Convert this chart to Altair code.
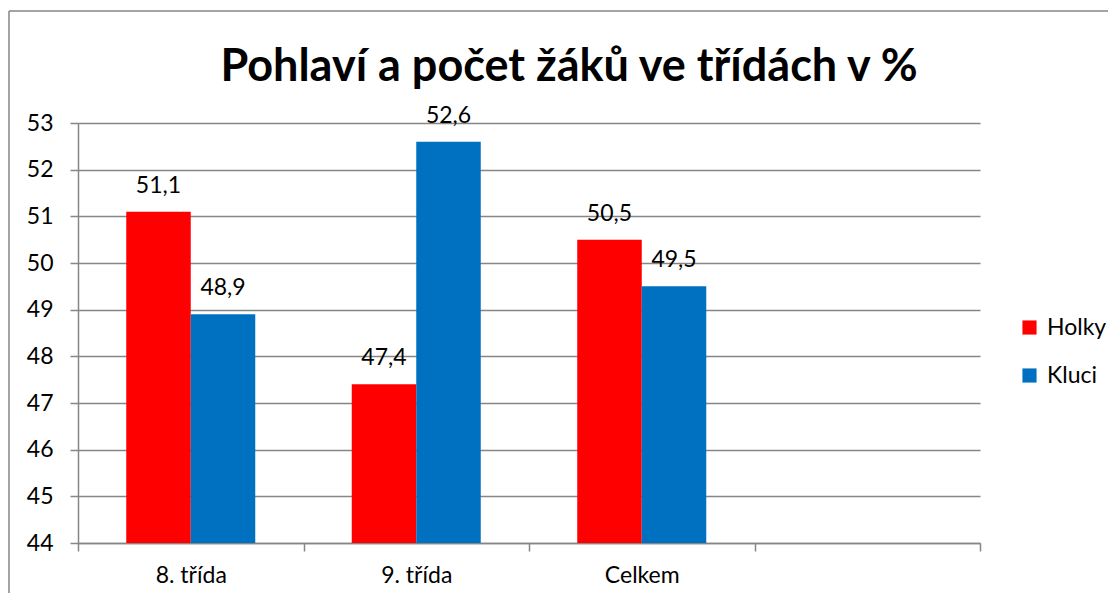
import altair as alt
import pandas as pd

categories = ["8. třída", "9. třída", "Celkem"]
slots = ["8. třída", "9. třída", "Celkem", " "]
series = ["Holky", "Kluci"]
holky = [51.1, 47.4, 50.5]
kluci = [48.9, 52.6, 49.5]
colors = ["#FF0000", "#0070C0"]
y_ticks = list(range(44, 54))

rows = []
for c, h, k in zip(categories, holky, kluci):
    rows.append({"kat": c, "pohlavi": "Holky", "hodnota": h})
    rows.append({"kat": c, "pohlavi": "Kluci", "hodnota": k})
df = pd.DataFrame(rows)
df["popisek"] = df["hodnota"].map(lambda v: f"{v:.1f}".replace(".", ","))

FONT = "Lato"
GRAY = "#868686"

x_scale = alt.Scale(domain=slots, paddingInner=0, paddingOuter=0)
off_scale = alt.Scale(domain=series, paddingInner=0, paddingOuter=0.748)
y_scale = alt.Scale(domain=[44, 53], zero=False, nice=False)

x_enc = alt.X(
    "kat:N",
    sort=slots,
    scale=x_scale,
    axis=alt.Axis(
        title=None, labelAngle=0, tickBand="extent", grid=False,
        labelFontSize=23, labelPadding=13, tickSize=8,
        domainColor=GRAY, tickColor=GRAY, domainWidth=1.5, tickWidth=1.5,
        labelColor="#000000", labelFont=FONT,
    ),
)

bars = alt.Chart(df).mark_bar().encode(
    x=x_enc,
    xOffset=alt.XOffset("pohlavi:N", sort=series, scale=off_scale),
    y=alt.Y(
        "hodnota:Q", scale=y_scale,
        axis=alt.Axis(
            title=None, values=y_ticks, tickSize=8, labelPadding=17,
            labelFontSize=23, labelFont=FONT, labelColor="#000000",
            gridColor=GRAY, gridWidth=1.5, domainColor=GRAY,
            tickColor=GRAY, domainWidth=1.5, tickWidth=1.5,
        ),
    ),
    y2=alt.datum(44),
    color=alt.Color(
        "pohlavi:N", sort=series,
        scale=alt.Scale(domain=series, range=colors),
        legend=alt.Legend(
            title=None, orient="none", legendX=940, legendY=193,
            symbolType="square", symbolSize=200, symbolStrokeWidth=0,
            labelFontSize=23, labelFont=FONT, rowPadding=24, labelOffset=6,
        ),
    ),
)

labels = alt.Chart(df).mark_text(
    baseline="bottom", dy=-14, fontSize=23, font=FONT, color="#000000"
).encode(
    x=alt.X("kat:N", sort=slots, scale=x_scale),
    xOffset=alt.XOffset("pohlavi:N", sort=series, scale=off_scale),
    y=alt.Y("hodnota:Q", scale=y_scale),
    text="popisek:N",
)

one = pd.DataFrame({"a": [0]})
frame_top = alt.Chart(one).mark_rule(color=GRAY, strokeWidth=1.5).encode(
    x=alt.value(-69), x2=alt.value(1030), y=alt.value(-112)
)
frame_left = alt.Chart(one).mark_rule(color=GRAY, strokeWidth=1.5).encode(
    x=alt.value(-69), y=alt.value(-112), y2=alt.value(470)
)

chart = alt.layer(frame_top, frame_left, bars, labels).properties(
    width=902,
    height=420,
    title=alt.TitleParams(
        "Pohlaví a počet žáků ve třídách v %",
        fontSize=45, font=FONT, fontWeight="bold", color="#000000",
        anchor="middle", dx=40, offset=-80,
    ),
    autosize=alt.AutoSizeParams(type="none"),
    padding={"left": 70, "top": 115, "right": 128, "bottom": 50},
).configure_view(stroke=None)

chart.save("out.html", embed_options={"renderer": "svg", "actions": False})
